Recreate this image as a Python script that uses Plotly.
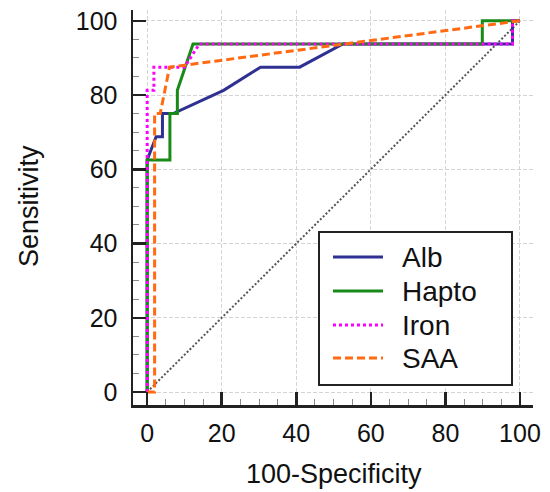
import plotly.graph_objects as go

# ROC curve data (100-Specificity, Sensitivity)
alb_x = [0, 0, 2.4, 4.1, 4.1, 7.0, 20.5, 30.4, 40.9, 52.5, 98.0, 98.0, 100]
alb_y = [0, 62.5, 68.75, 68.75, 75, 75, 81.25, 87.5, 87.5, 93.75, 93.75, 100, 100]

hapto_x = [0, 0, 6.1, 6.1, 8.1, 8.1, 12.3, 89.9, 89.9, 100]
hapto_y = [0, 62.5, 62.5, 75, 75, 81.25, 93.75, 93.75, 100, 100]

iron_x = [0, 0, 1.8, 1.8, 10.0, 14.0, 98.0, 98.0, 100]
iron_y = [0, 81.25, 81.25, 87.5, 87.5, 93.75, 93.75, 100, 100]

saa_x = [0, 2.0, 2.0, 3.5, 6.0, 100]
saa_y = [0, 0, 75, 75, 87.5, 100]

ref_x = [0, 100]
ref_y = [0, 100]

names = ["Alb", "Hapto", "Iron", "SAA"]
colors = ["#2e3192", "#178a17", "#ff00ff", "#ff6a13"]
dashes = ["solid", "solid", "3px,3px", "8px,4px"]

tick_vals = [0, 20, 40, 60, 80, 100]
tick_text = ["0", "20", "40", "60", "80", "100"]

FONT = "Liberation Sans, Arial, sans-serif"

fig = go.Figure()
fig.add_trace(go.Scatter(x=ref_x, y=ref_y, mode="lines", showlegend=False,
                         line=dict(color="#555555", width=2, dash="2px,2px"), hoverinfo="skip"))
series = [(alb_x, alb_y), (hapto_x, hapto_y), (iron_x, iron_y), (saa_x, saa_y)]
for (xs, ys), n, c, d in zip(series, names, colors, dashes):
    fig.add_trace(go.Scatter(x=xs, y=ys, mode="lines", name=n, showlegend=False,
                             line=dict(color=c, width=3, dash=d)))

L, R, T, B = 133, 17, 10, 87
W, H = 550, 492
pw, ph = W - L - R, H - T - B

def px2x(px):
    return (px - L) / pw

def py2y(py):
    return (H - B - py) / ph

axis_common = dict(
    automargin=False,
    showline=True, linecolor="#222222", linewidth=2.5,
    ticks="inside", ticklen=13, tickwidth=2.5, tickcolor="#222222",
    showgrid=True, gridcolor="#d4d4d4", gridwidth=1, griddash="4px,2px",
    zeroline=False,
    tickvals=tick_vals, ticktext=tick_text,
    tickfont=dict(family=FONT, size=25, color="#111111"),
    minor=dict(dtick=5, tick0=0, ticks="inside", ticklen=6, tickwidth=1,
               tickcolor="#8a8a8a", showgrid=False),
)

fig.update_xaxes(range=[-3.8, 103.5], ticklabelstandoff=4, **axis_common)
fig.update_yaxes(range=[-3.5, 102.9], ticklabelstandoff=8, **axis_common)

shapes = []
annotations = []
# legend box
shapes.append(dict(type="rect", xref="paper", yref="paper",
                   x0=px2x(319), x1=px2x(512), y0=py2y(385), y1=py2y(232),
                   line=dict(color="#222222", width=2), fillcolor="white", layer="above"))
rows = [257, 291, 325, 358]
for n, c, d, r in zip(names, colors, dashes, rows):
    shapes.append(dict(type="line", xref="paper", yref="paper",
                       x0=px2x(333), x1=px2x(383), y0=py2y(r), y1=py2y(r),
                       line=dict(color=c, width=3, dash=d), layer="above"))
    annotations.append(dict(text=n, xref="paper", yref="paper", x=px2x(400), y=py2y(r),
                            xanchor="left", yanchor="middle", showarrow=False,
                            font=dict(family=FONT, size=28, color="#111111")))

annotations.append(dict(text="100-Specificity", xref="paper", yref="paper",
                        x=px2x(334), y=py2y(474), xanchor="center", yanchor="middle",
                        showarrow=False, font=dict(family=FONT, size=27, color="#111111")))
annotations.append(dict(text="Sensitivity", xref="paper", yref="paper",
                        x=px2x(29), y=py2y(206), xanchor="center", yanchor="middle",
                        textangle=-90, showarrow=False,
                        font=dict(family=FONT, size=27, color="#111111")))

fig.update_layout(
    width=W, height=H,
    margin=dict(l=L, r=R, t=T, b=B, autoexpand=False),
    paper_bgcolor="white", plot_bgcolor="white",
    shapes=shapes, annotations=annotations,
    showlegend=False,
)

fig.write_html("out.html",
               config={"displayModeBar": False, "staticPlot": True},
               post_script="document.body.style.margin='0';document.body.style.padding='0';")
